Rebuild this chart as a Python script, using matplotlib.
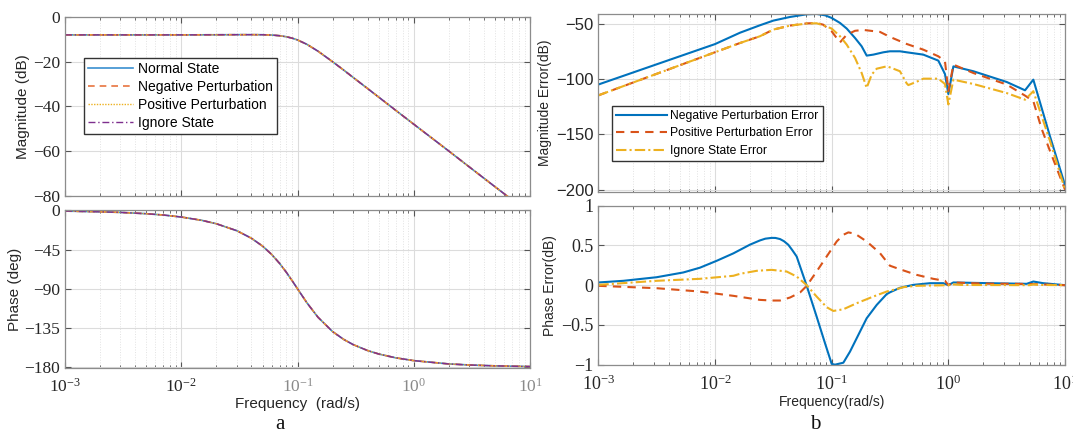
import numpy as np
import matplotlib
matplotlib.use('Agg')
import matplotlib.pyplot as plt
from matplotlib.ticker import LogLocator, NullFormatter

plt.rcParams['font.family'] = ['Liberation Serif', 'DejaVu Serif']
plt.rcParams['mathtext.fontset'] = 'stix'

# panel a: bode plot (all four states overlap)
freq_a = [0.001, 0.002, 0.003, 0.005, 0.007, 0.01, 0.015, 0.02, 0.03, 0.04, 0.05,
          0.06, 0.07, 0.08, 0.09, 0.1, 0.12, 0.15, 0.2, 0.25, 0.3, 0.4, 0.5,
          0.7, 1, 2, 3, 5, 7, 10]
mag_normal = [-8.0, -8.0, -8.0, -8.0, -8.0, -8.0, -7.97, -7.95, -7.91, -7.9, -7.93,
              -8.08, -8.37, -8.83, -9.48, -10.28, -12.19, -15.3, -20.0, -23.8, -27.0, -32.0, -35.9,
              -41.8, -48.0, -60.0, -67.1, -76.0, -81.8, -88.0]
phase_normal = [-0.7, -1.5, -2.2, -3.7, -5.2, -7.5, -11.3, -15.2, -23.2, -31.8, -40.9,
                -50.6, -60.7, -70.9, -80.8, -90.0, -105.8, -122.7, -139.1, -148.2, -154.0, -160.9, -164.9,
                -169.3, -172.5, -176.3, -177.5, -178.5, -178.9, -179.3]
mag_neg, phase_neg = mag_normal, phase_normal
mag_pos, phase_pos = mag_normal, phase_normal
mag_ign, phase_ign = mag_normal, phase_normal
labels_a = ['Normal State', 'Negative Perturbation', 'Positive Perturbation', 'Ignore State']

# panel b: magnitude errors
f_neg_m = [0.001, 0.01, 0.0164, 0.0243, 0.0316, 0.044, 0.0611, 0.0743, 0.0877, 0.1,
           0.1178, 0.1346, 0.1585, 0.1807, 0.1995, 0.2275, 0.2773, 0.3155, 0.3846, 0.4395,
           0.6095, 0.82, 0.935, 1.0, 1.104, 1.637, 3.162, 4.539, 5.346, 7.43, 10]
m_neg = [-105.0, -68.5, -58.2, -51.5, -47.3, -44.0, -41.6, -41.3, -42.5, -44.9,
         -49.4, -54.5, -63.0, -70.5, -78.9, -78.0, -75.9, -75.0, -75.0, -75.9,
         -78.0, -83.4, -95.5, -113.6, -88.6, -93.0, -102.7, -110.2, -100.6, -151.8, -196.0]

f_pos_m = [0.001, 0.0164, 0.0243, 0.0316, 0.044, 0.0611, 0.0743, 0.0847, 0.1, 0.1178,
           0.1346, 0.1585, 0.1866, 0.2594, 0.3155, 0.4395, 0.6095, 0.82, 0.935, 1.0,
           1.104, 1.637, 3.162, 4.539, 5.346, 6.3, 7.43, 10]
m_pos = [-114.8, -67.5, -61.4, -55.4, -51.8, -49.8, -49.5, -51.0, -57.0, -67.0,
         -60.0, -56.5, -55.7, -57.5, -62.0, -68.4, -73.5, -79.5, -84.0, -111.0,
         -87.0, -94.6, -105.0, -115.0, -120.0, -145.0, -165.0, -200.0]

f_ign_m = [0.001, 0.0164, 0.0243, 0.0316, 0.044, 0.0611, 0.0743, 0.0847, 0.1, 0.1178,
           0.1346, 0.1585, 0.1807, 0.1995, 0.2203, 0.2432, 0.2958, 0.3155, 0.3846, 0.4395,
           0.4539, 0.5346, 0.6095, 0.82, 0.935, 1.0, 1.104, 1.637, 3.162, 4.539,
           5.346, 7.43, 10]
m_ign = [-114.8, -67.5, -61.4, -55.4, -51.8, -50.0, -49.7, -51.5, -54.5, -61.4,
         -69.0, -81.0, -94.6, -108.0, -96.0, -90.7, -88.6, -89.5, -93.0, -104.0,
         -105.5, -102.5, -99.7, -99.7, -104.5, -123.0, -100.6, -104.5, -112.7, -118.7,
         -111.0, -156.0, -200.0]

# panel b: phase errors
f_neg_p = [0.001, 0.00164, 0.00316, 0.00535, 0.00743, 0.01035, 0.01436, 0.01995, 0.0243, 0.027,
           0.0306, 0.033, 0.0361, 0.039, 0.0425, 0.046, 0.0501, 0.0611, 0.0743, 0.0877,
           0.1, 0.1067, 0.1259, 0.1435, 0.1637, 0.1995, 0.2432, 0.2958, 0.3155, 0.3846,
           0.501, 0.695, 0.904, 1.0, 1.104, 2.275, 4.688, 5.346, 6.5, 10]
p_neg = [0.034, 0.055, 0.10, 0.16, 0.22, 0.307, 0.40, 0.51, 0.563, 0.585,
         0.595, 0.594, 0.58, 0.553, 0.508, 0.44, 0.361, -0.008, -0.395, -0.731,
         -0.99, -1.0, -0.975, -0.836, -0.668, -0.416, -0.248, -0.113, -0.09, -0.033,
         0.004, 0.025, 0.025, 0.0, 0.034, 0.025, 0.017, 0.046, 0.025, 0.0]

f_pos_p = [0.001, 0.00316, 0.00743, 0.01436, 0.0243, 0.0306, 0.0361, 0.044, 0.0536, 0.0611,
           0.0743, 0.0906, 0.1104, 0.1259, 0.139, 0.1585, 0.1995, 0.2594, 0.3155, 0.3846,
           0.5346, 0.741, 0.935, 1.0, 1.104, 2.0, 5.0, 10]
p_pos = [-0.008, -0.038, -0.08, -0.134, -0.185, -0.193, -0.193, -0.155, -0.092, -0.008,
         0.172, 0.361, 0.55, 0.634, 0.664, 0.647, 0.55, 0.403, 0.245, 0.20,
         0.13, 0.08, 0.055, 0.0, 0.034, 0.02, 0.015, 0.0]

f_ign_p = [0.001, 0.00316, 0.00743, 0.01436, 0.0164, 0.0228, 0.0306, 0.0411, 0.0501, 0.0611,
           0.0743, 0.0906, 0.1033, 0.1259, 0.1637, 0.2275, 0.2958, 0.3846, 0.4111, 0.5346,
           1.0, 1.104, 1.3, 5.0, 5.346, 6.0, 10]
p_ign = [0.004, 0.055, 0.08, 0.118, 0.143, 0.181, 0.193, 0.172, 0.109, 0.0,
         -0.143, -0.277, -0.324, -0.303, -0.227, -0.143, -0.08, -0.038, -0.025, -0.008,
         0.0, 0.01, 0.003, 0.0, 0.01, 0.003, 0.0]
labels_b = ['Negative Perturbation Error', 'Positive Perturbation Error', 'Ignore State Error']

c_blue, c_orange, c_yellow, c_purple = '#0072BD', '#D95319', '#EDB120', '#7E2F8E'
tick_col = '#262626'
sans = ['Liberation Sans', 'DejaVu Sans']


def style_axis(ax, tick_family):
    ax.set_xscale('log')
    ax.set_xlim(1e-3, 10)
    ax.xaxis.set_major_locator(LogLocator(base=10, numticks=10))
    ax.xaxis.set_minor_locator(LogLocator(base=10, subs=np.arange(2, 10), numticks=20))
    ax.xaxis.set_minor_formatter(NullFormatter())
    ax.grid(True, which='major', color='#dcdcdc', lw=0.8)
    ax.grid(True, which='minor', axis='x', color='#e2e2e2', lw=0.7, ls=':')
    ax.tick_params(which='both', direction='in', top=True, right=True, colors='#555555',
                   labelcolor=tick_col)
    ax.tick_params(which='major', length=4)
    ax.tick_params(which='minor', length=2)
    ax.tick_params(axis='x', pad=7)
    for s in ax.spines.values():
        s.set_color('#8c8c8c')
        s.set_linewidth(0.9)
    for lab in ax.get_yticklabels():
        lab.set_family(tick_family)
    ax.set_axisbelow(True)


fig = plt.figure(figsize=(10.73, 4.34), dpi=100)
ax1 = fig.add_axes([0.0606, 0.549, 0.4334, 0.4118])
ax2 = fig.add_axes([0.0606, 0.152, 0.4334, 0.364])
ax3 = fig.add_axes([0.5576, 0.5576, 0.435, 0.411])
ax4 = fig.add_axes([0.5576, 0.1597, 0.435, 0.3664])

# a - magnitude
ax1.plot(freq_a, mag_normal, color='#3a8fd0', lw=1.2, ls='-', label=labels_a[0])
ax1.plot(freq_a, mag_neg, color='#E8743F', lw=1.2, ls=(0, (4, 3)), label=labels_a[1])
ax1.plot(freq_a, mag_pos, color=c_yellow, lw=1.0, ls=(0, (1, 1)), label=labels_a[2])
ax1.plot(freq_a, mag_ign, color=c_purple, lw=1.0, ls=(0, (5, 2, 1, 2)), label=labels_a[3])
ax1.set_ylim(-80, 0)
ax1.set_yticks([-80, -60, -40, -20, 0])
style_axis(ax1, ['Liberation Serif'])
ax1.tick_params(axis='x', labelbottom=False)
for lab in ax1.get_yticklabels():
    lab.set_fontsize(12.5)
ax1.set_ylabel('Magnitude (dB)', family=sans, fontsize=11, color=tick_col, labelpad=2)
ax1.legend(loc='upper left', bbox_to_anchor=(0.041, 0.773), borderaxespad=0,
           prop={'family': sans, 'size': 10}, fancybox=False, edgecolor='#333333',
           framealpha=1, handlelength=3.2, labelspacing=0.3, borderpad=0.3, handletextpad=0.4)

# a - phase
ax2.plot(freq_a, phase_normal, color='#3a8fd0', lw=1.2, ls='-')
ax2.plot(freq_a, phase_neg, color='#E8743F', lw=1.2, ls=(0, (4, 3)))
ax2.plot(freq_a, phase_pos, color=c_yellow, lw=1.0, ls=(0, (1, 1)))
ax2.plot(freq_a, phase_ign, color=c_purple, lw=1.0, ls=(0, (5, 2, 1, 2)))
ax2.set_ylim(-181, 0.5)
ax2.set_yticks([-180, -135, -90, -45, 0])
style_axis(ax2, ['Liberation Serif'])
for lab in ax2.get_yticklabels() + ax2.get_xticklabels():
    lab.set_fontsize(12.5)
for lab in ax2.get_xticklabels()[3:]:
    lab.set_color('#8a8a8a')
ax2.set_ylabel('Phase (deg)', family=sans, fontsize=11, color=tick_col, labelpad=2)
ax2.set_xlabel('Frequency  (rad/s)', family=sans, fontsize=11, color=tick_col, labelpad=1)

# b - magnitude error
ax3.plot(f_neg_m, m_neg, color=c_blue, lw=1.5, ls='-', label=labels_b[0])
ax3.plot(f_pos_m, m_pos, color=c_orange, lw=1.5, ls=(0, (4, 3)), label=labels_b[1])
ax3.plot(f_ign_m, m_ign, color=c_yellow, lw=1.5, ls=(0, (5, 1.5, 1, 1.5)), label=labels_b[2])
ax3.set_ylim(-202, -41)
ax3.set_yticks([-200, -150, -100, -50])
style_axis(ax3, sans)
ax3.tick_params(axis='x', labelbottom=False)
for lab in ax3.get_yticklabels():
    lab.set_fontsize(12)
ax3.set_ylabel('Magnitude Error(dB)', family=sans, fontsize=10, color=tick_col, labelpad=3)
ax3.legend(loc='upper left', bbox_to_anchor=(0.0285, 0.484), borderaxespad=0,
           prop={'family': sans, 'size': 8.7}, fancybox=False, edgecolor='#333333',
           framealpha=1, handlelength=4.2, labelspacing=0.45, borderpad=0.35, handletextpad=0.3)

# b - phase error
ax4.plot(f_neg_p, p_neg, color=c_blue, lw=1.5, ls='-')
ax4.plot(f_pos_p, p_pos, color=c_orange, lw=1.5, ls=(0, (4, 3)))
ax4.plot(f_ign_p, p_ign, color=c_yellow, lw=1.5, ls=(0, (5, 1.5, 1, 1.5)))
ax4.set_ylim(-1, 1)
ax4.set_yticks([-1, -0.5, 0, 0.5, 1])
ax4.set_yticklabels(['\u22121', '\u22120.5', '0', '0.5', '1'])
style_axis(ax4, ['Liberation Serif'])
for lab in ax4.get_yticklabels() + ax4.get_xticklabels():
    lab.set_fontsize(13)
ax4.set_ylabel('Phase Error(dB)', family=sans, fontsize=10, color=tick_col, labelpad=3)
ax4.set_xlabel('Frequency(rad/s)', family=sans, fontsize=10, color=tick_col, labelpad=1)

fig.text(0.261, 0.022, 'a', fontsize=15, ha='center', va='center', color='#111111')
fig.text(0.760, 0.022, 'b', fontsize=15, ha='center', va='center', color='#111111')

fig.savefig('out.png', dpi=100)
